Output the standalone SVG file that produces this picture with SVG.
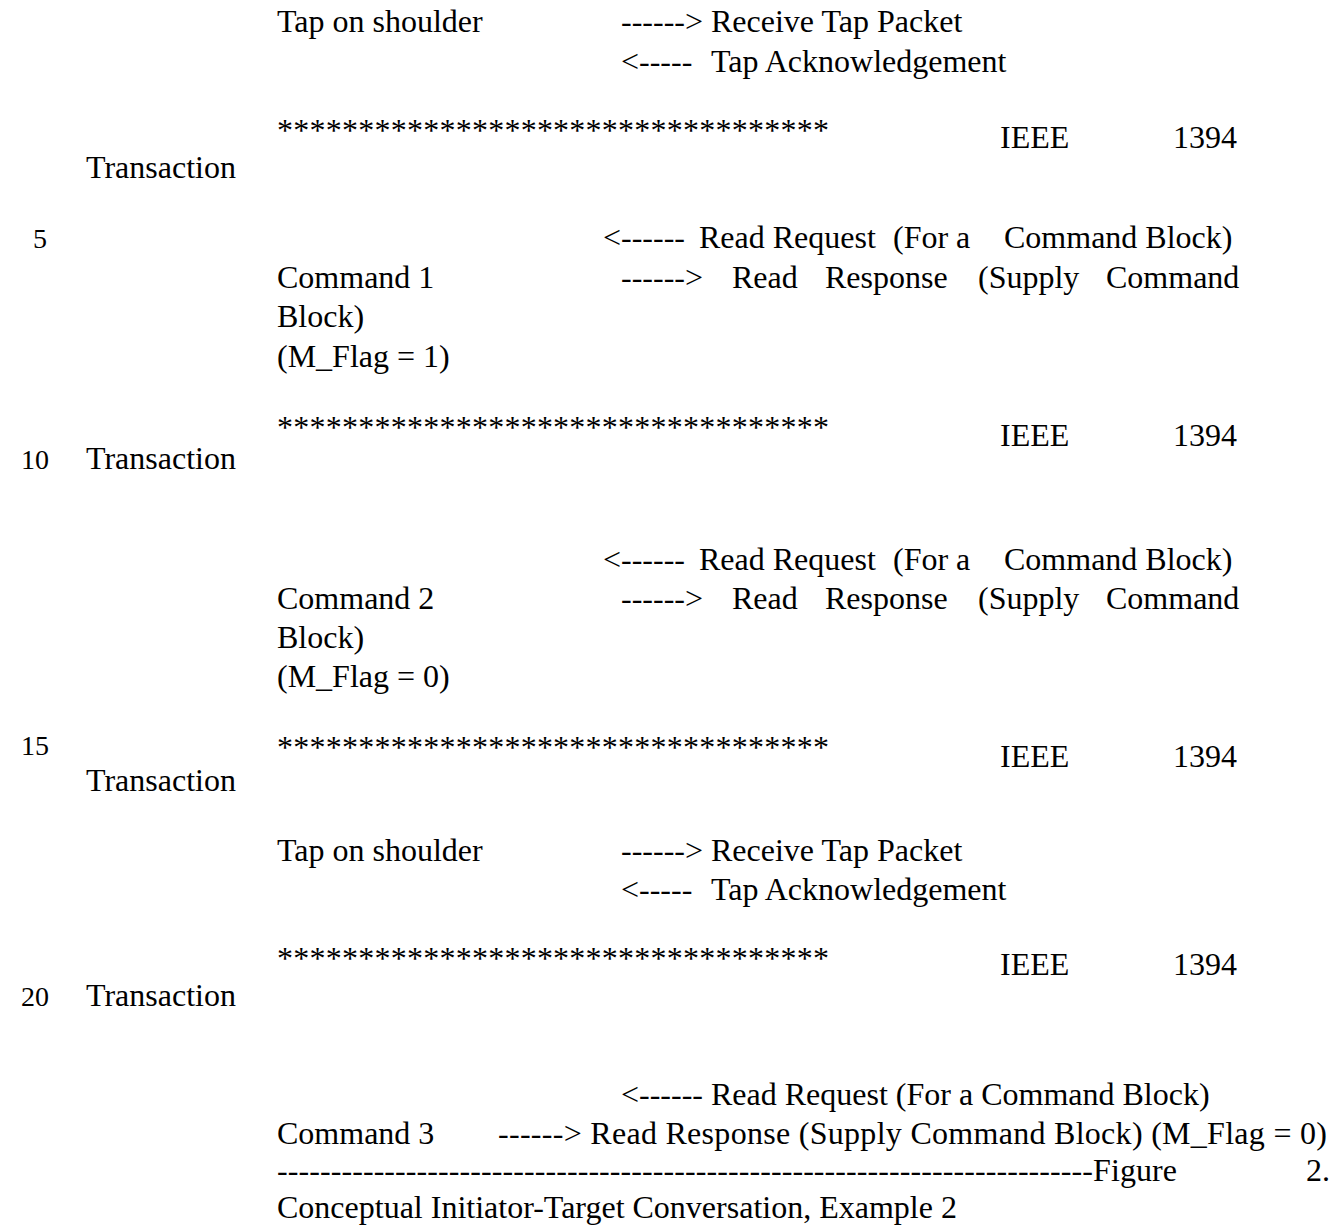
<svg xmlns="http://www.w3.org/2000/svg" width="1341" height="1226" viewBox="0 0 1341 1226">
<style>
text{font-family:"Liberation Serif","Times New Roman",serif;font-size:32px;fill:#000}
.ln{font-size:28px;text-anchor:end}
</style>
<rect width="1341" height="1226" fill="#fff"/>
<g id="block1">
<text x="277" y="32">Tap on shoulder</text>
<text x="621" y="32">------&gt;<tspan x="711">Receive Tap Packet</tspan></text>
<text x="621" y="72">&lt;-----<tspan x="711">Tap Acknowledgement</tspan></text>
</g>
<g id="tx1">
<text x="277" y="141" textLength="552" lengthAdjust="spacing">**********************************</text>
<text x="1000" y="148">IEEE</text>
<text x="1173" y="148">1394</text>
<text x="86" y="178">Transaction</text>
</g>
<g id="cmd1">
<text class="ln" x="47" y="248">5</text>
<text x="603" y="248">&lt;------<tspan x="699">Read Request</tspan><tspan x="893">(For a</tspan><tspan x="1004">Command Block)</tspan></text>
<text x="277" y="288">Command 1</text>
<text x="621" y="288">------&gt;<tspan x="732">Read</tspan><tspan x="825">Response</tspan><tspan x="978">(Supply</tspan><tspan x="1106">Command</tspan></text>
<text x="277" y="327">Block)</text>
<text x="277" y="367">(M_Flag = 1)</text>
</g>
<g id="tx2">
<text x="277" y="438" textLength="552" lengthAdjust="spacing">**********************************</text>
<text x="1000" y="446">IEEE</text>
<text x="1173" y="446">1394</text>
<text class="ln" x="49" y="469">10</text>
<text x="86" y="469">Transaction</text>
</g>
<g id="cmd2">
<text x="603" y="570">&lt;------<tspan x="699">Read Request</tspan><tspan x="893">(For a</tspan><tspan x="1004">Command Block)</tspan></text>
<text x="277" y="609">Command 2</text>
<text x="621" y="609">------&gt;<tspan x="732">Read</tspan><tspan x="825">Response</tspan><tspan x="978">(Supply</tspan><tspan x="1106">Command</tspan></text>
<text x="277" y="648">Block)</text>
<text x="277" y="687">(M_Flag = 0)</text>
</g>
<g id="tx3">
<text class="ln" x="49" y="755">15</text>
<text x="277" y="758" textLength="552" lengthAdjust="spacing">**********************************</text>
<text x="1000" y="767">IEEE</text>
<text x="1173" y="767">1394</text>
<text x="86" y="791">Transaction</text>
</g>
<g id="block2">
<text x="277" y="861">Tap on shoulder</text>
<text x="621" y="861">------&gt;<tspan x="711">Receive Tap Packet</tspan></text>
<text x="621" y="900">&lt;-----<tspan x="711">Tap Acknowledgement</tspan></text>
</g>
<g id="tx4">
<text x="277" y="969" textLength="552" lengthAdjust="spacing">**********************************</text>
<text x="1000" y="975">IEEE</text>
<text x="1173" y="975">1394</text>
<text class="ln" x="49" y="1006">20</text>
<text x="86" y="1006">Transaction</text>
</g>
<g id="cmd3">
<text x="621" y="1105">&lt;------ Read Request (For a Command Block)</text>
<text x="277" y="1144">Command 3</text>
<text x="498" y="1144" textLength="829" lengthAdjust="spacing">------&gt; Read Response (Supply Command Block) (M_Flag = 0)</text>
</g>
<g id="caption">
<text x="277" y="1181" textLength="900" lengthAdjust="spacing">----------------------------------------------------------------------------Figure</text>
<text x="1306" y="1181">2.</text>
<text x="277" y="1218">Conceptual Initiator-Target Conversation, Example 2</text>
</g>
<g id="connectors"></g>
</svg>
